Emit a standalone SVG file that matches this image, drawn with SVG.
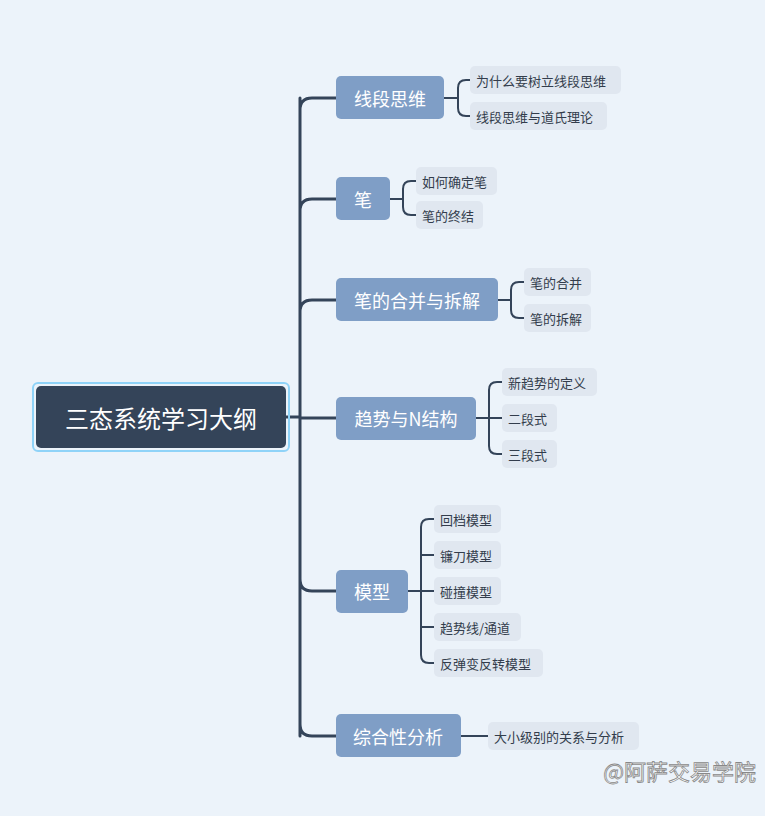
<svg xmlns="http://www.w3.org/2000/svg" width="765" height="816" viewBox="0 0 765 816">
<style>
text{font-family:"Noto Sans CJK SC","Noto Sans",sans-serif;dominant-baseline:central}
.l1 rect{fill:#7f9ec6}
.l1 text{fill:#fff;font-size:18px;text-anchor:middle}
.l2 rect{fill:#e0e7f0}
.l2 text{fill:#333d4c;font-size:13px}
.c path{fill:none;stroke:#344459;stroke-width:3;stroke-linecap:round}
.c2 path{fill:none;stroke:#344459;stroke-width:2}
</style>
<rect width="765" height="816" fill="#ecf3fa"/>
<g class="c">
<path d="M286 417H300M300 98V736M300 110Q300 98 312 98H336M300 211Q300 199 312 199H336M300 312Q300 300 312 300H336M300 418H336M300 579Q300 591 312 591H336M300 724Q300 736 312 736H336"/>
</g>
<g class="c2">
<path d="M444 98H458M470 80H466Q458 80 458 88V108Q458 116 466 116H470"/>
<path d="M390 199H403M416 181H411Q403 181 403 189V207Q403 215 411 215H416"/>
<path d="M498 300H511M524 282H519Q511 282 511 290V310Q511 318 519 318H524"/>
<path d="M476 418H502M502 382H497Q489 382 489 390V446Q489 454 497 454H502"/>
<path d="M408 591H434M434 519H429Q421 519 421 527V655Q421 663 429 663H434M421 555H434M421 627H434"/>
<path d="M461 736H488"/>
</g>
<g id="root">
<rect x="33" y="383" width="256" height="68" rx="5" fill="none" stroke="#8fd3f8" stroke-width="2"/>
<rect x="36" y="386" width="250" height="62" rx="5" fill="#344459"/>
<text x="161" y="417" fill="#fff" font-size="24" text-anchor="middle">三态系统学习大纲</text>
</g>
<g id="n1" class="l1"><rect x="336" y="76" width="108" height="43" rx="5"/><text x="390" y="98">线段思维</text></g>
<g id="n2" class="l1"><rect x="336" y="177" width="54" height="43" rx="5"/><text x="363" y="199">笔</text></g>
<g id="n3" class="l1"><rect x="336" y="278" width="162" height="43" rx="5"/><text x="417" y="300">笔的合并与拆解</text></g>
<g id="n4" class="l1"><rect x="336" y="397" width="140" height="43" rx="5"/><text x="406" y="418">趋势与N结构</text></g>
<g id="n5" class="l1"><rect x="336" y="570" width="72" height="43" rx="5"/><text x="372" y="591">模型</text></g>
<g id="n6" class="l1"><rect x="336" y="714" width="125" height="43" rx="5"/><text x="398" y="736">综合性分析</text></g>
<g id="c11" class="l2"><rect x="470" y="66" width="151" height="28" rx="5"/><text x="476" y="80">为什么要树立线段思维</text></g>
<g id="c12" class="l2"><rect x="470" y="102" width="137" height="28" rx="5"/><text x="476" y="116">线段思维与道氏理论</text></g>
<g id="c21" class="l2"><rect x="416" y="167" width="81" height="28" rx="5"/><text x="422" y="181">如何确定笔</text></g>
<g id="c22" class="l2"><rect x="416" y="201" width="67" height="28" rx="5"/><text x="422" y="215">笔的终结</text></g>
<g id="c31" class="l2"><rect x="524" y="268" width="67" height="28" rx="5"/><text x="530" y="282">笔的合并</text></g>
<g id="c32" class="l2"><rect x="524" y="304" width="67" height="28" rx="5"/><text x="530" y="318">笔的拆解</text></g>
<g id="c41" class="l2"><rect x="502" y="368" width="95" height="28" rx="5"/><text x="508" y="382">新趋势的定义</text></g>
<g id="c42" class="l2"><rect x="502" y="404" width="55" height="28" rx="5"/><text x="508" y="418">二段式</text></g>
<g id="c43" class="l2"><rect x="502" y="440" width="55" height="28" rx="5"/><text x="508" y="454">三段式</text></g>
<g id="c51" class="l2"><rect x="434" y="505" width="67" height="28" rx="5"/><text x="440" y="519">回档模型</text></g>
<g id="c52" class="l2"><rect x="434" y="541" width="67" height="28" rx="5"/><text x="440" y="555">镰刀模型</text></g>
<g id="c53" class="l2"><rect x="434" y="577" width="67" height="28" rx="5"/><text x="440" y="591">碰撞模型</text></g>
<g id="c54" class="l2"><rect x="434" y="613" width="87" height="28" rx="5"/><text x="440" y="627">趋势线/通道</text></g>
<g id="c55" class="l2"><rect x="434" y="649" width="109" height="28" rx="5"/><text x="440" y="663">反弹变反转模型</text></g>
<g id="c61" class="l2"><rect x="488" y="722" width="151" height="28" rx="5"/><text x="494" y="736">大小级别的关系与分析</text></g>
<text x="756" y="770" font-size="22" text-anchor="end" fill="#fff" stroke="#888" stroke-width="0.8">@阿萨交易学院</text>
</svg>
